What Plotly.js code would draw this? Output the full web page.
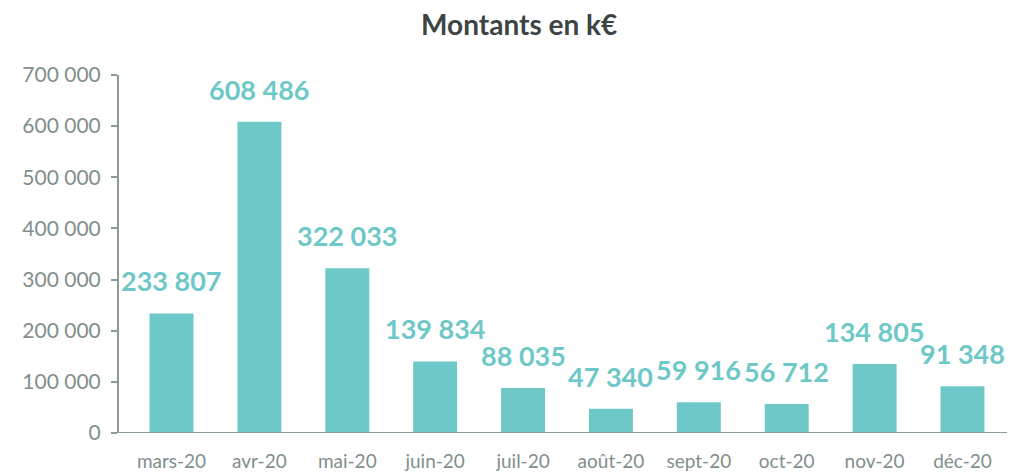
<!DOCTYPE html>
<html>
<head>
<meta charset="utf-8">
<script src="https://cdn.plot.ly/plotly-3.0.1.min.js"></script>
<style>html,body{margin:0;padding:0;background:#fff;}#chart{width:1020px;height:472px;}</style>
</head>
<body>
<div id="chart"></div>
<script>
const months = ["mars-20","avr-20","mai-20","juin-20","juil-20","août-20","sept-20","oct-20","nov-20","déc-20"];
const amounts = [233807, 608486, 322033, 139834, 88035, 47340, 59916, 56712, 134805, 91348];
const yTickVals = [0, 100000, 200000, 300000, 400000, 500000, 600000, 700000];
const yTickText = ["0","100 000","200 000","300 000","400 000","500 000","600 000","700 000"];

function fmt(v){ return String(v).replace(/\B(?=(\d{3})+(?!\d))/g, " "); }

const teal = "#6EC8C7";
const gray = "#7F8F8C";
const axisGray = "#8C9A98";

const trace = {
  type: "bar",
  x: months,
  y: amounts,
  marker: {color: teal},
  hoverinfo: "none"
};

const annotations = months.map((m, i) => ({
  x: m, y: amounts[i], xref: "x", yref: "y",
  text: fmt(amounts[i]), showarrow: false,
  yanchor: "bottom", yshift: 14,
  font: {family: "Lato", size: 27, color: teal, weight: 700}
}));

const layout = {
  width: 1020, height: 472,
  margin: {l: 119, r: 13, t: 75, b: 39},
  paper_bgcolor: "#fff", plot_bgcolor: "#fff",
  title: {text: "<b>Montants en k€</b>", x: 0.509, xanchor: "center", y: 0.947, yanchor: "middle",
          font: {family: "Lato", size: 28, color: "#3D4444"}},
  bargap: 0.5,
  showlegend: false,
  xaxis: {
    showgrid: false, showline: false, zeroline: false,
    ticks: "", tickfont: {family: "Lato", size: 19, color: gray},
    ticklabelstandoff: 15
  },
  yaxis: {
    range: [0, 700000], showgrid: false, zeroline: false,
    showline: true, linecolor: axisGray, linewidth: 2,
    ticks: "outside", ticklen: 6, tickcolor: axisGray, tickwidth: 2,
    tickvals: yTickVals, ticktext: yTickText,
    tickfont: {family: "Lato", size: 21, color: gray},
    ticklabelstandoff: 6
  },
  shapes: [{type: "line", xref: "paper", yref: "y", x0: -0.006, x1: 1, y0: 0, y1: 0,
            line: {color: axisGray, width: 2}}],
  annotations: annotations
};

Plotly.newPlot("chart", [trace], layout, {displayModeBar: false, staticPlot: true});
</script>
</body>
</html>
